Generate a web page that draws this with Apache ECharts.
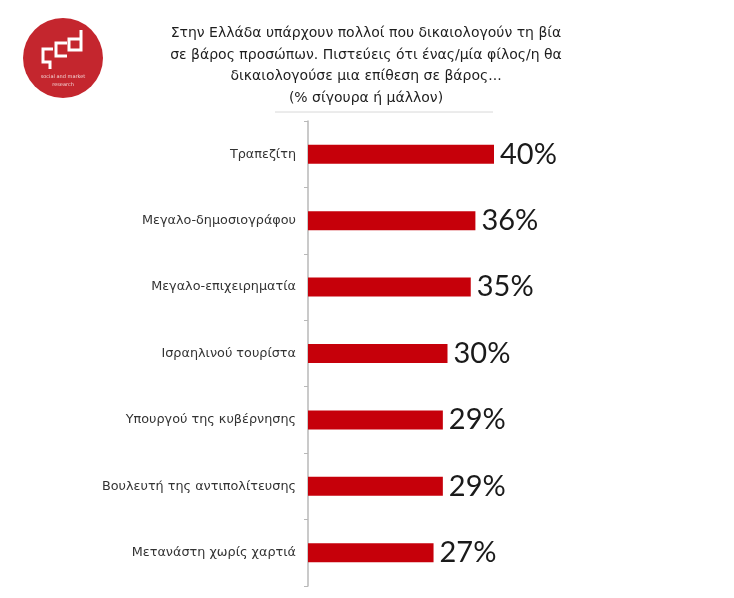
<!DOCTYPE html>
<html><head><meta charset="utf-8">
<script src="https://cdn.jsdelivr.net/npm/echarts@6/dist/echarts.min.js"></script>
<style>html,body{margin:0;padding:0;background:#fff}#c{width:734px;height:598px}</style>
</head><body><div id="c"></div>
<script>
const categories = ["Τραπεζίτη","Μεγαλο-δημοσιογράφου","Μεγαλο-επιχειρηματία","Ισραηλινού τουρίστα","Υπουργού της κυβέρνησης","Βουλευτή της αντιπολίτευσης","Μετανάστη χωρίς χαρτιά"];
const values = [40,36,35,30,29,29,27];
const titleLines = ["Στην Ελλάδα υπάρχουν πολλοί που δικαιολογούν τη βία","σε βάρος προσώπων. Πιστεύεις ότι ένας/μία φίλος/η θα","δικαιολογούσε μια επίθεση σε βάρος...","(% σίγουρα ή μάλλον)"];

const chart = echarts.init(document.getElementById('c'), null, {renderer:'canvas'});
chart.setOption({
  backgroundColor:'#fff',
  animation:false,
  title:{
    text:titleLines.join('\n'),
    left:361, top:18, textAlign:'center',
    textStyle:{fontFamily:'DejaVu Sans',fontSize:14,fontWeight:'normal',color:'#1e1e1e',lineHeight:21.5}
  },
  grid:{left:308, top:121, height:465, width:279},
  xAxis:{type:'value', min:0, max:60, show:false},
  yAxis:{
    type:'category', data:categories, inverse:true,
    axisLine:{show:true, lineStyle:{color:'#b8b8b8', width:1.5}},
    axisTick:{show:true, length:4, lineStyle:{color:'#b8b8b8'}},
    axisLabel:{margin:12, fontFamily:'DejaVu Sans', fontSize:12.8, color:'#333'}
  },
  series:[{
    type:'bar', data:values, barWidth:19,
    itemStyle:{color:'#c6000a'},
    label:{show:true, position:'right', distance:6, formatter:'{c}%',
      fontFamily:'Lato', fontSize:29, fontWeight:400, color:'#1a1a1a'}
  }],
  graphic:[
    {type:'circle', shape:{cx:63, cy:58, r:40}, style:{fill:'#c4262e'}},
    {type:'polyline', shape:{points:[[53,49],[43,49],[43,62],[50,62],[50,69]]}, style:{stroke:'#fff', lineWidth:3, fill:null}},
    {type:'polyline', shape:{points:[[67,43],[56,43],[56,56],[67,56]]}, style:{stroke:'#fff', lineWidth:3, fill:null}},
    {type:'polyline', shape:{points:[[81,30],[81,50],[69,50],[69,39],[81,39]]}, style:{stroke:'#fff', lineWidth:3, fill:null}},
    {type:'text', style:{text:'social and market', x:63, y:77, align:'center', verticalAlign:'middle', fill:'#f3d6d6', font:'5px DejaVu Sans'}},
    {type:'text', style:{text:'research', x:63, y:85, align:'center', verticalAlign:'middle', fill:'#f3d6d6', font:'5px DejaVu Sans'}},
    {type:'line', shape:{x1:275, y1:112, x2:493, y2:112}, style:{stroke:'#d8d8d8', lineWidth:1}}
  ]
});
</script></body></html>
